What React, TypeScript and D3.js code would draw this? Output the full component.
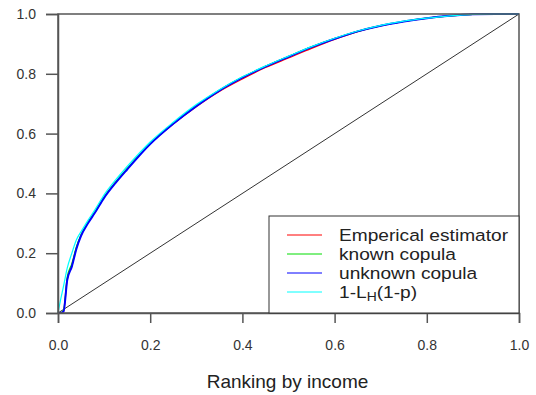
import {useEffect, useRef} from "react";
import * as d3 from "d3";

// ranking grid (x) shared by all curves
const pGrid = [0, 0.005, 0.012, 0.02, 0.03, 0.04, 0.05, 0.065, 0.08, 0.1, 0.125, 0.15, 0.2, 0.25, 0.3, 0.35, 0.4, 0.45, 0.5, 0.55, 0.6, 0.65, 0.7, 0.75, 0.8, 0.85, 0.9, 0.95, 1];

const empirical = [0, 0, 0.005, 0.112, 0.158, 0.218, 0.26, 0.302, 0.336, 0.387, 0.437, 0.482, 0.566, 0.632, 0.69, 0.741, 0.783, 0.821, 0.853, 0.885, 0.915, 0.941, 0.96, 0.975, 0.986, 0.994, 0.999, 1, 1];
const knownCopula = [0, 0, 0.01, 0.12, 0.165, 0.222, 0.262, 0.303, 0.338, 0.388, 0.438, 0.483, 0.567, 0.635, 0.694, 0.745, 0.789, 0.825, 0.858, 0.89, 0.918, 0.942, 0.961, 0.975, 0.986, 0.994, 0.999, 1, 1];
const unknownCopula = [0, 0, 0.005, 0.11, 0.155, 0.215, 0.258, 0.3, 0.335, 0.385, 0.435, 0.48, 0.565, 0.633, 0.692, 0.744, 0.787, 0.824, 0.857, 0.889, 0.917, 0.942, 0.961, 0.975, 0.986, 0.994, 0.999, 1, 1];
const theoretical = [0, 0.04, 0.09, 0.15, 0.2, 0.245, 0.272, 0.31, 0.345, 0.395, 0.445, 0.49, 0.572, 0.638, 0.697, 0.747, 0.79, 0.826, 0.859, 0.891, 0.919, 0.943, 0.962, 0.976, 0.986, 0.994, 0.999, 1, 1];

const xTicks = [0, 0.2, 0.4, 0.6, 0.8, 1.0];
const yTicks = [0, 0.2, 0.4, 0.6, 0.8, 1.0];

const seriesNames = ["Emperical estimator", "known copula", "unknown copula", "1-LH(1-p)"];
const seriesColors = ["#ff0000", "#00dd00", "#0000ff", "#00ffff"];
const seriesWidths = [1.2, 1.2, 2, 1.2];

export default function App() {
    const svgRef = useRef<SVGSVGElement | null>(null);

    useEffect(() => {
        if (!svgRef.current) return;
        const svg = d3.select(svgRef.current);
        svg.selectAll("*").remove();

        const margin = {top: 14, right: 17, bottom: 82, left: 58};
        const width = 536, height = 395;
        const axisColor = "#555";
        const font = "'Liberation Sans', Arial, sans-serif";

        const x = d3.scaleLinear().domain([0, 1]).range([margin.left, width - margin.right]);
        const y = d3.scaleLinear().domain([0, 1]).range([height - margin.bottom, margin.top]);

        // diagonal of equality
        svg.append("line")
            .attr("x1", x(0)).attr("y1", y(0))
            .attr("x2", x(1)).attr("y2", y(1))
            .attr("stroke", "#333").attr("stroke-width", 1);

        // curves
        const allSeries = [empirical, knownCopula, unknownCopula, theoretical];
        const line = d3.line<number>()
            .x((d, i) => x(pGrid[i]))
            .y(d => y(d))
            .curve(d3.curveMonotoneX);
        allSeries.forEach((s, i) => {
            svg.append("path")
                .datum(s)
                .attr("fill", "none")
                .attr("stroke", seriesColors[i])
                .attr("stroke-width", seriesWidths[i])
                .attr("d", line);
        });

        // box
        svg.append("rect")
            .attr("x", x(0)).attr("y", y(1))
            .attr("width", x(1) - x(0)).attr("height", y(0) - y(1))
            .attr("fill", "none").attr("stroke", axisColor).attr("stroke-width", 1.5);

        // axes
        const gx = svg.append("g")
            .attr("transform", `translate(0,${y(0)})`)
            .call(d3.axisBottom(x).tickValues(xTicks).tickFormat(d3.format(".1f")).tickSize(10).tickPadding(17));
        const gy = svg.append("g")
            .attr("transform", `translate(${x(0)},0)`)
            .call(d3.axisLeft(y).tickValues(yTicks).tickFormat(d3.format(".1f")).tickSize(12).tickPadding(10));
        [gx, gy].forEach(g => {
            g.select(".domain").attr("stroke", axisColor).attr("stroke-width", 1.5);
            g.selectAll(".tick line").attr("stroke", axisColor).attr("stroke-width", 1.5);
            g.selectAll(".tick text").attr("fill", "#333").style("font-size", "14px").style("font-family", font);
        });

        // axis title
        svg.append("text")
            .attr("x", (x(0) + x(1)) / 2 - 1)
            .attr("y", 388)
            .attr("text-anchor", "middle")
            .attr("fill", "#222")
            .style("font-size", "19px")
            .style("font-family", font)
            .text("Ranking by income");

        // legend
        const legend = svg.append("g");
        legend.append("rect")
            .attr("x", 269).attr("y", 216)
            .attr("width", x(1) - 269).attr("height", y(0) - 216)
            .attr("fill", "white").attr("stroke", "#333").attr("stroke-width", 1);
        seriesNames.forEach((name, i) => {
            const ly = 235 + i * 19;
            legend.append("line")
                .attr("x1", 287).attr("x2", 322).attr("y1", ly).attr("y2", ly)
                .attr("stroke", seriesColors[i]).attr("stroke-width", 1);
            const t = legend.append("text")
                .attr("transform", `translate(339,${ly + 6}) scale(1.16,1)`)
                .attr("fill", "#222")
                .style("font-size", "16.5px")
                .style("font-family", font);
            if (name === "1-LH(1-p)") {
                t.append("tspan").text("1-L");
                t.append("tspan").text("H").style("font-size", "12px").attr("dy", 3);
                t.append("tspan").text("(1-p)").attr("dy", -3);
            } else {
                t.text(name);
            }
        });
    }, []);

    return (
        <svg ref={svgRef} width={536} height={395}
             style={{position: "absolute", left: 0, top: 0, background: "white"}}></svg>
    );
}
